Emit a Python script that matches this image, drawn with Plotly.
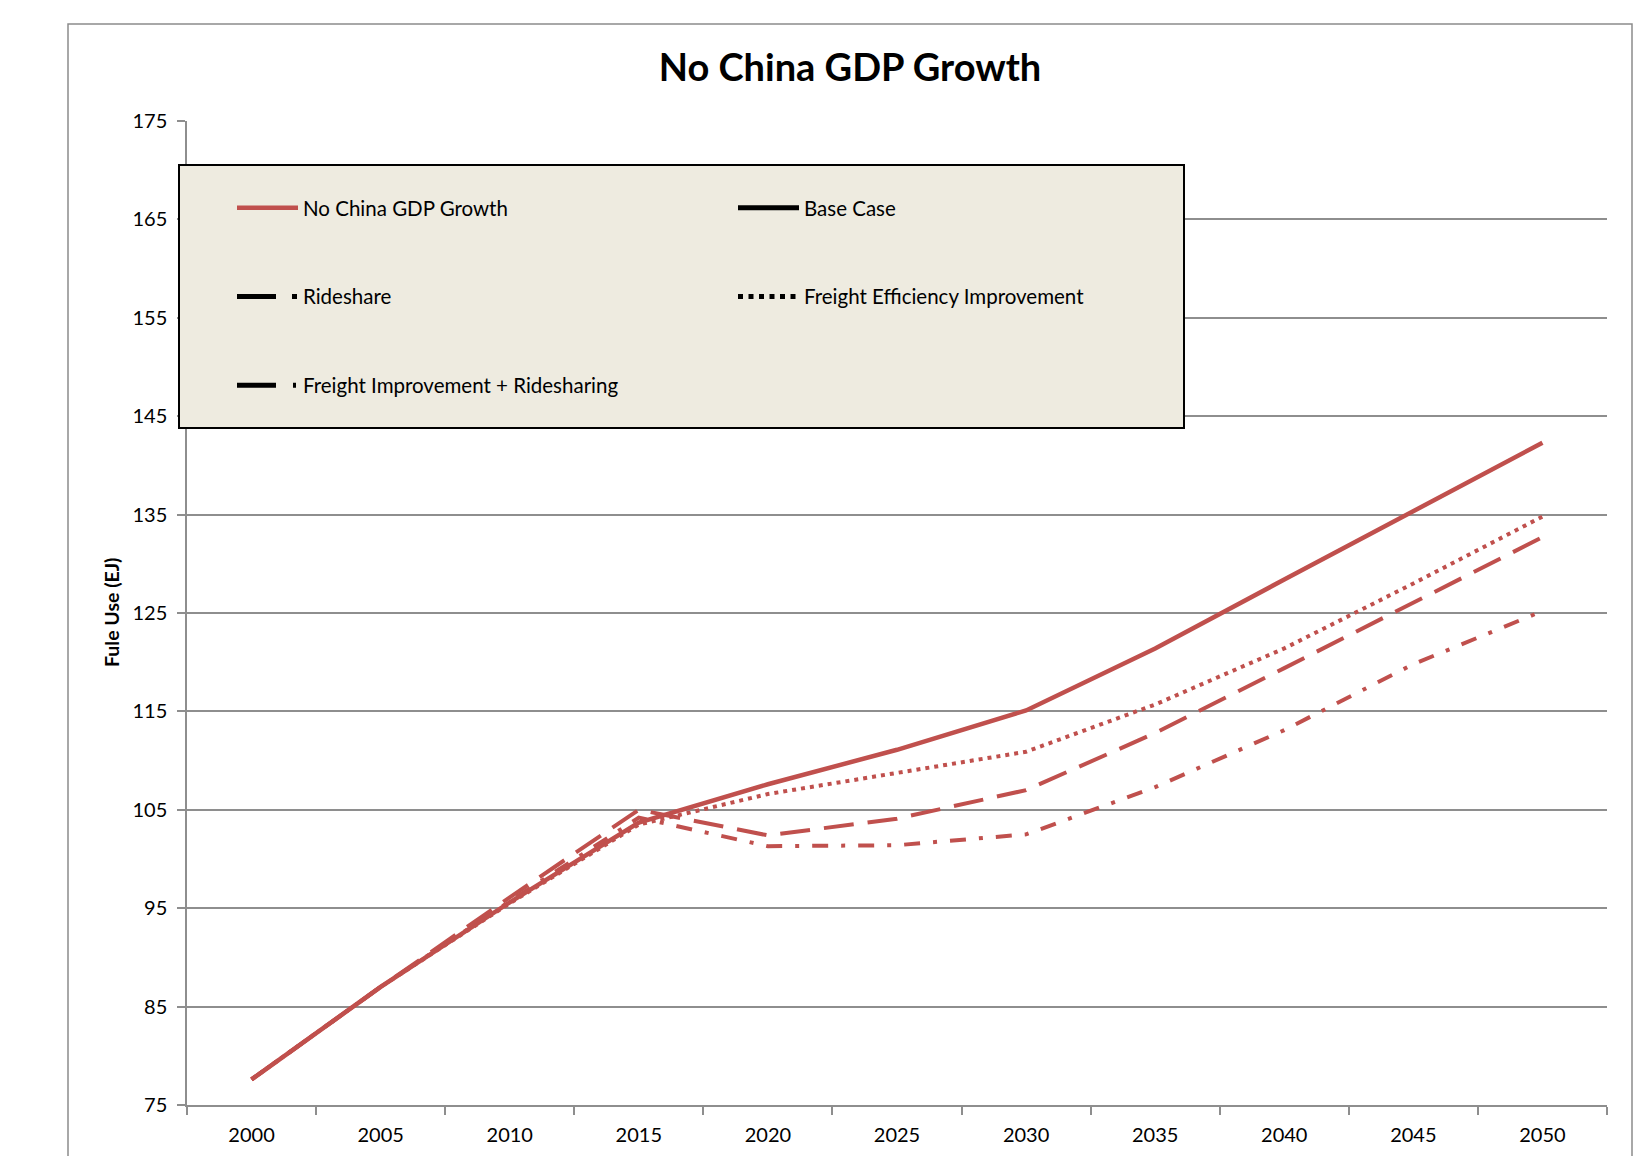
import plotly.graph_objects as go

# Fuel use scenarios (EJ), 5-year steps
years = [2000, 2005, 2010, 2015, 2020, 2025, 2030, 2035, 2040, 2045, 2050]
no_china_gdp_growth = [77.6, 87.0, 95.6, 103.7, 107.6, 111.1, 115.1, 121.4, 128.4, 135.4, 142.3]
freight_efficiency = [77.6, 87.0, 95.5, 103.5, 106.6, 108.7, 110.9, 115.7, 121.4, 128.0, 134.8]
rideshare = [77.6, 87.0, 96.1, 105.0, 102.4, 104.1, 107.0, 112.8, 119.4, 126.1, 132.7]
freight_plus_rideshare = [77.6, 87.0, 95.7, 104.2, 101.3, 101.4, 102.5, 107.3, 113.1, 119.8, 125.2]

y_ticks = [75, 85, 95, 105, 115, 125, 135, 145, 155, 165, 175]
x_ticks = years

RED = "#C0504D"
GRID = "#8E8E8E"
FONT = "Lato, 'Open Sans', sans-serif"

W, H = 1649, 1156
L, R, T, B = 187, 42, 121, 51
PW, PH = W - L - R, H - T - B

def px_x(px):
    return (px - L) / PW

def px_y(py):
    return (H - B - py) / PH

fig = go.Figure()

# Scenario lines
fig.add_trace(go.Scatter(x=years, y=no_china_gdp_growth, mode="lines",
                         name="No China GDP Growth", legendgroup="a",
                         line=dict(color=RED, width=4.5)))
fig.add_trace(go.Scatter(x=years, y=freight_efficiency, mode="lines", showlegend=False,
                         line=dict(color=RED, width=4, dash="4px,5px")))
fig.add_trace(go.Scatter(x=years, y=rideshare, mode="lines", showlegend=False,
                         line=dict(color=RED, width=4, dash="30px,14px")))
fig.add_trace(go.Scatter(x=years, y=freight_plus_rideshare, mode="lines", showlegend=False,
                         line=dict(color=RED, width=4, dash="16px,13px,4px,13px")))

# Legend keys for the comparison cases
fig.add_trace(go.Scatter(x=[None], y=[None], mode="lines", name="Rideshare",
                         legendgroup="b", line=dict(color="black", width=5, dash="39px,16px,5px,100px")))
fig.add_trace(go.Scatter(x=[None], y=[None], mode="lines", name="Freight Improvement + Ridesharing",
                         legendgroup="c", line=dict(color="black", width=5, dash="39px,17px,3px,100px")))
fig.add_trace(go.Scatter(x=[None], y=[None], mode="lines", name="Base Case",
                         legend="legend2", legendgroup="d", line=dict(color="black", width=5)))
fig.add_trace(go.Scatter(x=[None], y=[None], mode="lines", name="Freight Efficiency Improvement",
                         legend="legend2", legendgroup="e", line=dict(color="black", width=5, dash="5px,5.5px")))

legend_common = dict(
    xref="container", yref="container", xanchor="left", yanchor="top",
    bgcolor="rgba(0,0,0,0)", borderwidth=0, orientation="v",
    traceorder="grouped", tracegroupgap=59, itemwidth=61,
    font=dict(family=FONT, size=20.5, color="black"),
)

fig.update_layout(
    width=W, height=H,
    margin=dict(l=L, r=R, t=T, b=B, autoexpand=False),
    paper_bgcolor="white", plot_bgcolor="white",
    font=dict(family=FONT, size=20, color="black"),
    title=dict(text="<b>No China GDP Growth</b>", xref="container", yref="container",
               x=850 / W, y=1 - 68 / H, xanchor="center", yanchor="middle",
               font=dict(family=FONT, size=38, color="black")),
    legend=dict(x=232 / W, y=1 - 188 / H, **legend_common),
    legend2=dict(x=733 / W, y=1 - 188 / H, **legend_common),
    xaxis=dict(range=[1997.5, 2052.5], tickvals=x_ticks, ticks="", showgrid=False,
               showline=True, linecolor=GRID, linewidth=1.5, ticklabelstandoff=11,
               tickfont=dict(size=20), tickangle=0, automargin=False,
               minor=dict(tick0=1997.5, dtick=5, ticks="outside", ticklen=8,
                          tickcolor=GRID, tickwidth=1.5, showgrid=False)),
    yaxis=dict(range=[75, 175], tickvals=y_ticks, ticks="outside", ticklen=8,
               tickcolor=GRID, tickwidth=1.5, showgrid=True, gridcolor=GRID, gridwidth=1.5,
               showline=True, linecolor=GRID, linewidth=1.5, zeroline=False,
               tickfont=dict(size=20), ticklabelstandoff=6, automargin=False),
    annotations=[
        dict(text="<b>Fule Use (EJ)</b>", textangle=-90, showarrow=False,
             xref="paper", yref="paper", x=px_x(111), y=px_y(613),
             xanchor="center", yanchor="middle",
             font=dict(family=FONT, size=19.5, color="black")),
    ],
    shapes=[
        # chart border
        dict(type="rect", xref="paper", yref="paper", layer="below",
             x0=px_x(68), x1=px_x(1632), y0=px_y(1175), y1=px_y(24),
             line=dict(color="#8C8C8C", width=1.5), fillcolor="rgba(0,0,0,0)"),
        # legend panel
        dict(type="rect", xref="paper", yref="paper", layer="above",
             x0=px_x(179), x1=px_x(1184), y0=px_y(428), y1=px_y(165),
             line=dict(color="black", width=2), fillcolor="#EEEBE0"),
    ],
)

fig.write_html("out.html")
